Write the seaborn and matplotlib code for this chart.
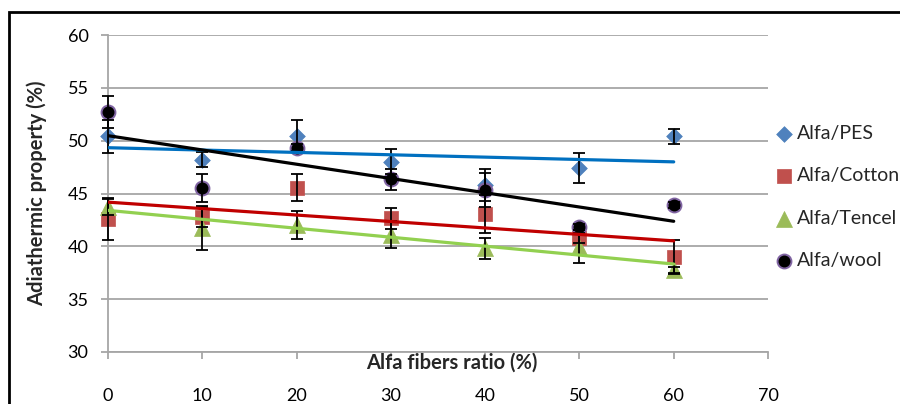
import numpy as np
import pandas as pd
import matplotlib
matplotlib.use("Agg")
import matplotlib.pyplot as plt
import seaborn as sns
from matplotlib.patches import Rectangle

# ---- data ----
ratio = [0, 10, 20, 30, 40, 50, 60]
pes = [50.4, 48.2, 50.45, 48.0, 45.8, 47.4, 50.4]
pes_err = [1.6, 0.7, 1.55, 1.2, 1.5, 1.4, 0.7]
cotton = [42.55, 42.8, 45.55, 42.65, 43.1, 40.8, 39.0]
cotton_err = [1.95, 1.0, 1.3, 1.0, 1.8, 0.5, 1.6]
tencel = [43.75, 41.7, 42.0, 41.1, 39.8, 39.95, 37.75]
tencel_err = [0.8, 2.0, 1.3, 1.3, 1.0, 1.55, 0.3]
wool = [52.7, 45.5, 49.35, 46.35, 45.35, 41.8, 43.9]
wool_err = [1.5, 1.35, 0.3, 1.0, 1.6, 0.3, 0.3]
names = ["Alfa/PES", "Alfa/Cotton", "Alfa/Tencel", "Alfa/wool"]
xticks = [0, 10, 20, 30, 40, 50, 60, 70]
yticks = [30, 35, 40, 45, 50, 55, 60]

sns.set_theme(style="white")
plt.rcParams["font.family"] = ["Lato", "DejaVu Sans"]

fig = plt.figure(figsize=(9, 4.04), dpi=100)
ax = fig.add_axes([108 / 900, 1 - 352 / 404, 660 / 900, 317 / 404])

styles = [
    # marker, face, edge, size(pt), edge lw, trend colour
    ("D", "#4F81BD", "#4F81BD", 8, 0.5, "#0070C0"),
    ("s", "#C0504D", "#C0504D", 10.5, 0.5, "#C00000"),
    ("^", "#9BBB59", "#9BBB59", 11.5, 0.5, "#92D050"),
    ("o", "#000000", "#8064A2", 10, 1.4, "#000000"),
]
values = [pes, cotton, tencel, wool]
errors = [pes_err, cotton_err, tencel_err, wool_err]

for i, (name, y, err, st) in enumerate(zip(names, values, errors, styles)):
    m, fc, ec, ms, elw, tc = st
    df = pd.DataFrame({"ratio": ratio, "val": y})
    sns.scatterplot(data=df, x="ratio", y="val", marker=m, s=ms ** 2,
                    color=fc, edgecolor=ec, linewidth=elw, label=name,
                    ax=ax, zorder=3 + i * 0.01, clip_on=False)
    eb = ax.errorbar(ratio, y, yerr=err, fmt="none", ecolor="black",
                     elinewidth=1.3, capsize=4, capthick=1.3, zorder=4)
    for art in list(eb.lines[1]) + list(eb.lines[2]):
        art.set_clip_on(False)

for name, y, st in zip(names, values, styles):
    df = pd.DataFrame({"ratio": ratio, "val": y})
    sns.regplot(data=df, x="ratio", y="val", scatter=False, ci=None,
                truncate=True, color=st[5], line_kws=dict(lw=2.3, zorder=5),
                ax=ax)

ax.set_xlim(0, 70)
ax.set_ylim(30, 60)
ax.set_xticks(xticks)
ax.set_yticks(yticks)
ax.yaxis.grid(True, color="#A6A6A6", lw=1.3)
ax.xaxis.grid(False)
for s in ["top", "right"]:
    ax.spines[s].set_visible(False)
for s in ["left", "bottom"]:
    ax.spines[s].set_color("#A6A6A6")
    ax.spines[s].set_linewidth(1.3)
ax.tick_params(axis="both", direction="out", length=5, width=1.3,
               color="#A6A6A6", labelsize=13, labelcolor="black")
ax.tick_params(axis="x", pad=21)
ax.tick_params(axis="y", pad=9, left=True)
ax.tick_params(axis="x", bottom=True)

ax.set_xlabel("Alfa fibers ratio (%)", fontsize=14.5, fontweight="bold")
ax.xaxis.set_label_coords((452 - 108) / 660, (352 - 363) / 317)
ax.xaxis.label.set_va("center")
ax.set_ylabel("Adiathermic property (%)", fontsize=14.5, fontweight="bold")
ax.yaxis.set_label_coords((37 - 108) / 660, 0.5)
ax.yaxis.label.set_va("center")

ax.legend(loc="center left", bbox_to_anchor=(1.0, (352 - 197) / 317),
          frameon=False, fontsize=14, labelspacing=1.3, handletextpad=0.2,
          handlelength=1.0, borderpad=0, borderaxespad=0.3)

fig.add_artist(Rectangle((9 / 900, -0.5), 2, 0.5 + (1 - 12 / 404),
                         transform=fig.transFigure, fill=False,
                         edgecolor="black", lw=2, clip_on=False))

fig.savefig("out.png", dpi=100)
